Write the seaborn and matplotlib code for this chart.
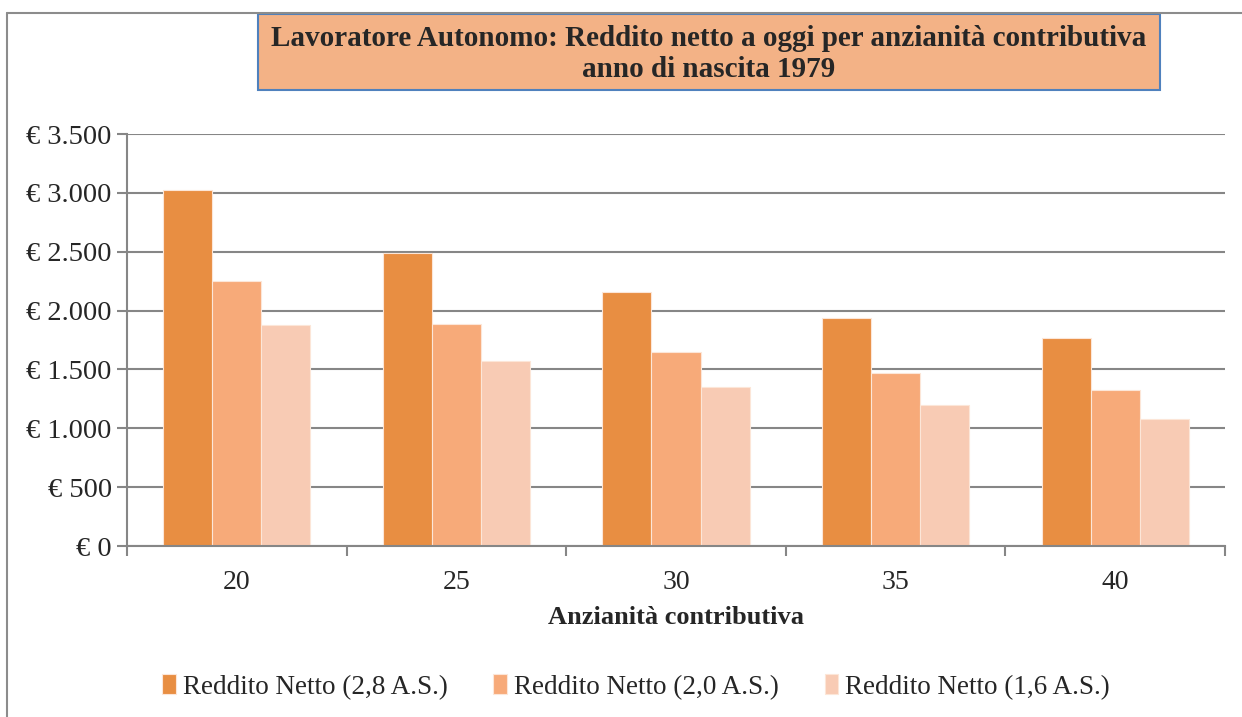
import numpy as np
import pandas as pd
import matplotlib
matplotlib.use("Agg")
import matplotlib.pyplot as plt
from matplotlib.patches import Rectangle
from matplotlib.ticker import FuncFormatter, FixedLocator
import seaborn as sns

# --- Data ---
anzianita = ["20", "25", "30", "35", "40"]
serie = ["Reddito Netto (2,8 A.S.)", "Reddito Netto (2,0 A.S.)", "Reddito Netto (1,6 A.S.)"]
reddito_28 = [3022, 2491, 2159, 1935, 1770]
reddito_20 = [2254, 1883, 1651, 1466, 1324]
reddito_16 = [1879, 1574, 1352, 1196, 1082]
colori = ["#E88E42", "#F7AA79", "#F8CBB4"]

df = pd.DataFrame({
    "anzianita": anzianita * 3,
    "serie": [serie[0]] * 5 + [serie[1]] * 5 + [serie[2]] * 5,
    "reddito": reddito_28 + reddito_20 + reddito_16,
})

sns.set_theme(style="white")
plt.rcParams["font.family"] = ["Liberation Serif", "DejaVu Serif"]

fig = plt.figure(figsize=(12.42, 7.17), dpi=100)
ax = fig.add_axes([127 / 1242, 1 - 546 / 717, (1225 - 127) / 1242, (546 - 134) / 717])

sns.barplot(data=df, x="anzianita", y="reddito", hue="serie", palette=colori,
            width=0.67, edgecolor="#FCE6D8", linewidth=0.8, ax=ax, legend=True,
            saturation=1)

ax.set_ylim(0, 3500)
ax.set_xlim(-0.5, 4.5)
ax.yaxis.set_major_locator(FixedLocator(np.arange(0, 3501, 500)))
ax.yaxis.set_major_formatter(FuncFormatter(lambda v, p: "€ " + f"{int(v):,}".replace(",", ".")))
ax.grid(axis="y", color="#868686", linewidth=1.5)
ax.set_axisbelow(True)
for s in ["top", "right"]:
    ax.spines[s].set_visible(False)
for s in ["left", "bottom"]:
    ax.spines[s].set_color("#868686")
    ax.spines[s].set_linewidth(1.5)

ax.tick_params(axis="y", direction="out", length=7, width=1.5, color="#868686",
               labelsize=20.5, pad=4, left=True)
ax.tick_params(axis="x", which="major", length=0, labelsize=20, pad=17.5)
ax.set_xticks(np.arange(-0.5, 5, 1), minor=True)
ax.tick_params(axis="x", which="minor", direction="out", length=7, width=1.5,
               color="#868686", bottom=True)
ax.set_xlabel("Anzianità contributiva", fontsize=19, fontweight="bold", labelpad=8)
ax.set_ylabel("")

leg = ax.legend(loc="center", bbox_to_anchor=((636 - 127) / 1098, (546 - 687) / 412), ncol=3,
                frameon=False, fontsize=19.5, handlelength=0.5, handleheight=0.75,
                handletextpad=0.25, columnspacing=1.7, borderaxespad=0)

# outer border of the chart area
fig.add_artist(plt.Line2D([7 / 1242, 7 / 1242], [0, 1 - 13 / 717], transform=fig.transFigure,
                          color="#8C8C8C", linewidth=1.5))
fig.add_artist(plt.Line2D([7 / 1242, 1], [1 - 13 / 717, 1 - 13 / 717], transform=fig.transFigure,
                          color="#8C8C8C", linewidth=1.5))

# title box
fig.add_artist(Rectangle((258 / 1242, 1 - 90 / 717), (1160 - 258) / 1242, (90 - 14) / 717,
                         transform=fig.transFigure, facecolor="#F3B286",
                         edgecolor="#4F81BD", linewidth=1.5))
fig.text(709 / 1242, 1 - 54 / 717,
         "Lavoratore Autonomo: Reddito netto a oggi per anzianità contributiva\nanno di nascita 1979",
         ha="center", va="center", fontsize=21, fontweight="bold", linespacing=1.22)

fig.savefig("out.png", dpi=100)
